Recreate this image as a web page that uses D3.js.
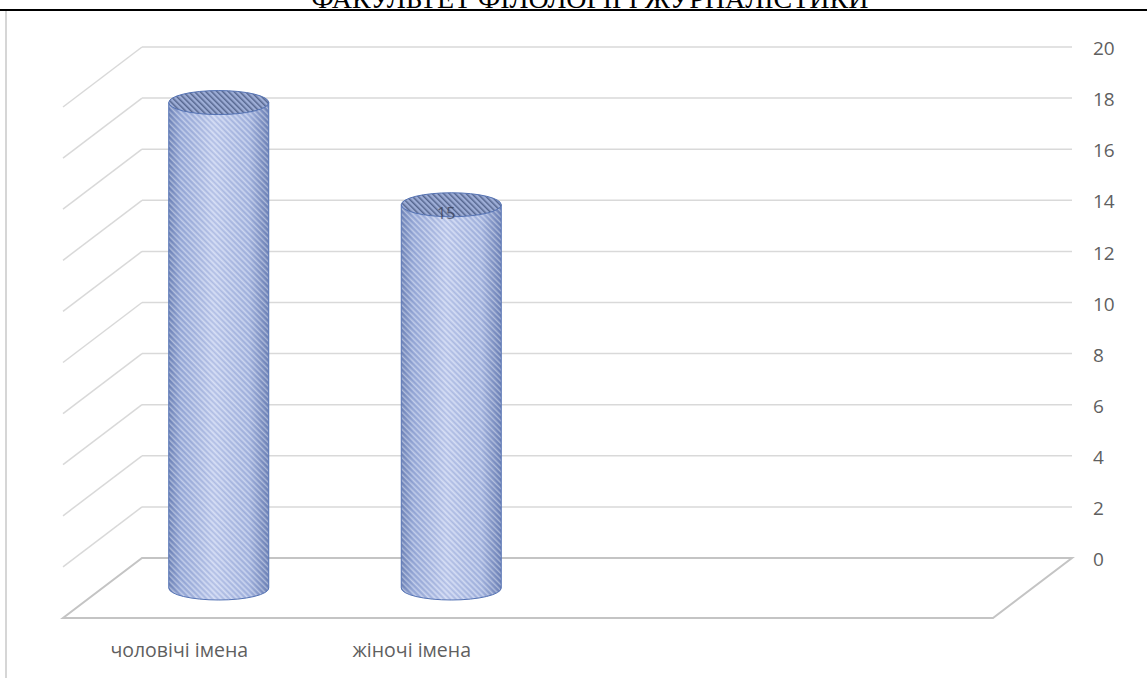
<!DOCTYPE html>
<meta charset="utf-8">
<style>

body { margin: 0; background: #fff; }

.walls line, .walls path {
  stroke: #d9d9d9;
  stroke-width: 1.5px;
  fill: none;
}

.floor {
  stroke: #c4c4c4;
  stroke-width: 2px;
  fill: none;
}

.axis text, .cats text {
  font-family: "Open Sans", sans-serif;
  fill: #5f5f5f;
}

</style>
<svg width="1147" height="678"></svg>
<script src="https://cdn.jsdelivr.net/npm/d3@7/dist/d3.min.js"></script>
<script>

// chart data
var categories = ["чоловічі імена", "жіночі імена", "", ""];
var values = [19, 15, null, null];
var dataLabels = [null, "15", null, null];
var yTicks = [0, 2, 4, 6, 8, 10, 12, 14, 16, 18, 20];
var pageTitle = "ФАКУЛЬТЕТ ФІЛОЛОГІЇ І ЖУРНАЛІСТИКИ";

var svg = d3.select("svg"),
    width = +svg.attr("width"),
    height = +svg.attr("height");

// oblique depth of the 3d box
var depthX = -79, depthY = 60;

var x = d3.scaleBand()
    .domain(d3.range(categories.length))
    .range([142, 1072]);

var y = d3.scaleLinear()
    .domain([0, 20])
    .range([558, 47]);

var defs = svg.append("defs");

var grad = defs.append("linearGradient")
    .attr("id", "body")
    .attr("x1", "0%").attr("x2", "100%")
    .attr("y1", "0%").attr("y2", "0%");
[[0, "#7085b9"], [0.12, "#9aacda"], [0.45, "#c0ccee"], [0.8, "#a8b8e2"], [1, "#6d82b7"]]
  .forEach(function(s) {
    grad.append("stop").attr("offset", s[0]).attr("stop-color", s[1]);
  });

var hatch = defs.append("pattern")
    .attr("id", "hatch")
    .attr("patternUnits", "userSpaceOnUse")
    .attr("width", 4).attr("height", 4)
    .attr("patternTransform", "rotate(-45)");
hatch.append("rect").attr("width", 1.3).attr("height", 4)
    .attr("fill", "#ffffff").attr("opacity", 0.4);
hatch.append("rect").attr("x", 2).attr("width", 1).attr("height", 4)
    .attr("fill", "#3f5590").attr("opacity", 0.12);

var hatchTop = defs.append("pattern")
    .attr("id", "hatchTop")
    .attr("patternUnits", "userSpaceOnUse")
    .attr("width", 4).attr("height", 4)
    .attr("patternTransform", "rotate(-45)");
hatchTop.append("rect").attr("width", 4).attr("height", 4).attr("fill", "#9dadd6");
hatchTop.append("rect").attr("width", 1.5).attr("height", 4).attr("fill", "#55668f");

// page header fragment, cut off by the top edge as in the source
svg.append("text")
    .attr("x", 590)
    .attr("y", 8)
    .attr("text-anchor", "middle")
    .style("font-family", "'Liberation Serif', serif")
    .style("font-size", "28px")
    .attr("fill", "#000")
    .text(pageTitle);

svg.append("line")
    .attr("x1", 0).attr("x2", width)
    .attr("y1", 10).attr("y2", 10)
    .attr("stroke", "#000").attr("stroke-width", 2);

svg.append("line")
    .attr("x1", 6).attr("x2", 6)
    .attr("y1", 11).attr("y2", height)
    .attr("stroke", "#c8c8c8").attr("stroke-width", 1.5);

// back and side walls
var walls = svg.append("g").attr("class", "walls");
var x0 = x.range()[0], x1 = x.range()[1];

walls.selectAll("line")
    .data(yTicks.filter(function(d) { return d > 0; }))
    .enter().append("line")
      .attr("x1", x0).attr("x2", x1)
      .attr("y1", function(d) { return y(d); })
      .attr("y2", function(d) { return y(d); });

walls.selectAll("path")
    .data(yTicks.filter(function(d) { return d > 0; }))
    .enter().append("path")
      .attr("d", function(d) {
        return "M" + x0 + "," + y(d) + "L" + (x0 + depthX) + "," + (y(d) + depthY);
      });

// floor
svg.append("path")
    .attr("class", "floor")
    .attr("d", "M" + x0 + "," + y(0) + "L" + x1 + "," + y(0) +
               "L" + (x1 + depthX) + "," + (y(0) + depthY) +
               "L" + (x0 + depthX) + "," + (y(0) + depthY) + "Z");

// value axis on the right
var axis = svg.append("g")
    .attr("class", "axis")
    .attr("transform", "translate(" + x1 + ",0)")
    .call(d3.axisRight(y).tickValues(yTicks).tickSize(0).tickPadding(21));
axis.select(".domain").remove();
axis.selectAll("text").style("font-size", "19px").attr("dy", "0.4em");

// category labels along the front edge of the floor
svg.append("g")
    .attr("class", "cats")
  .selectAll("text")
  .data(categories)
  .enter().append("text")
    .attr("x", function(d, i) { return x(i) + x.bandwidth() / 2 + depthX; })
    .attr("y", 657)
    .attr("text-anchor", "middle")
    .style("font-size", "19.5px")
    .text(function(d) { return d; });

// cylinders
var rx = 50, ry = 12;
var bars = values.map(function(v, i) { return {v: v, i: i, label: dataLabels[i]}; })
    .filter(function(d) { return d.v != null; });

var cyl = svg.append("g").selectAll("g")
    .data(bars)
    .enter().append("g");

function bodyPath(d) {
  var cx = x(d.i) + x.bandwidth() / 2 + depthX / 2,
      base = y(0) + depthY / 2,
      top = y(d.v) + depthY / 2;
  return "M" + (cx - rx) + "," + top +
         "L" + (cx - rx) + "," + base +
         "A" + rx + "," + ry + " 0 0 0 " + (cx + rx) + "," + base +
         "L" + (cx + rx) + "," + top + "Z";
}

cyl.append("path")
    .attr("d", bodyPath)
    .attr("fill", "url(#body)");

cyl.append("path")
    .attr("d", bodyPath)
    .attr("fill", "url(#hatch)")
    .attr("stroke", "#5573b4")
    .attr("stroke-width", 1);

cyl.append("ellipse")
    .attr("cx", function(d) { return x(d.i) + x.bandwidth() / 2 + depthX / 2; })
    .attr("cy", function(d) { return y(d.v) + depthY / 2; })
    .attr("rx", rx)
    .attr("ry", ry)
    .attr("fill", "url(#hatchTop)")
    .attr("stroke", "#5573b4")
    .attr("stroke-width", 1);

cyl.filter(function(d) { return d.label; })
  .append("text")
    .attr("x", function(d) { return x(d.i) + x.bandwidth() / 2 + depthX / 2 - 5; })
    .attr("y", function(d) { return y(d.v) + depthY / 2 + 14; })
    .attr("text-anchor", "middle")
    .style("font-family", "'Open Sans', sans-serif")
    .style("font-size", "16px")
    .attr("fill", "#3a3f55")
    .attr("opacity", 0.75)
    .text(function(d) { return d.label; });

</script>
